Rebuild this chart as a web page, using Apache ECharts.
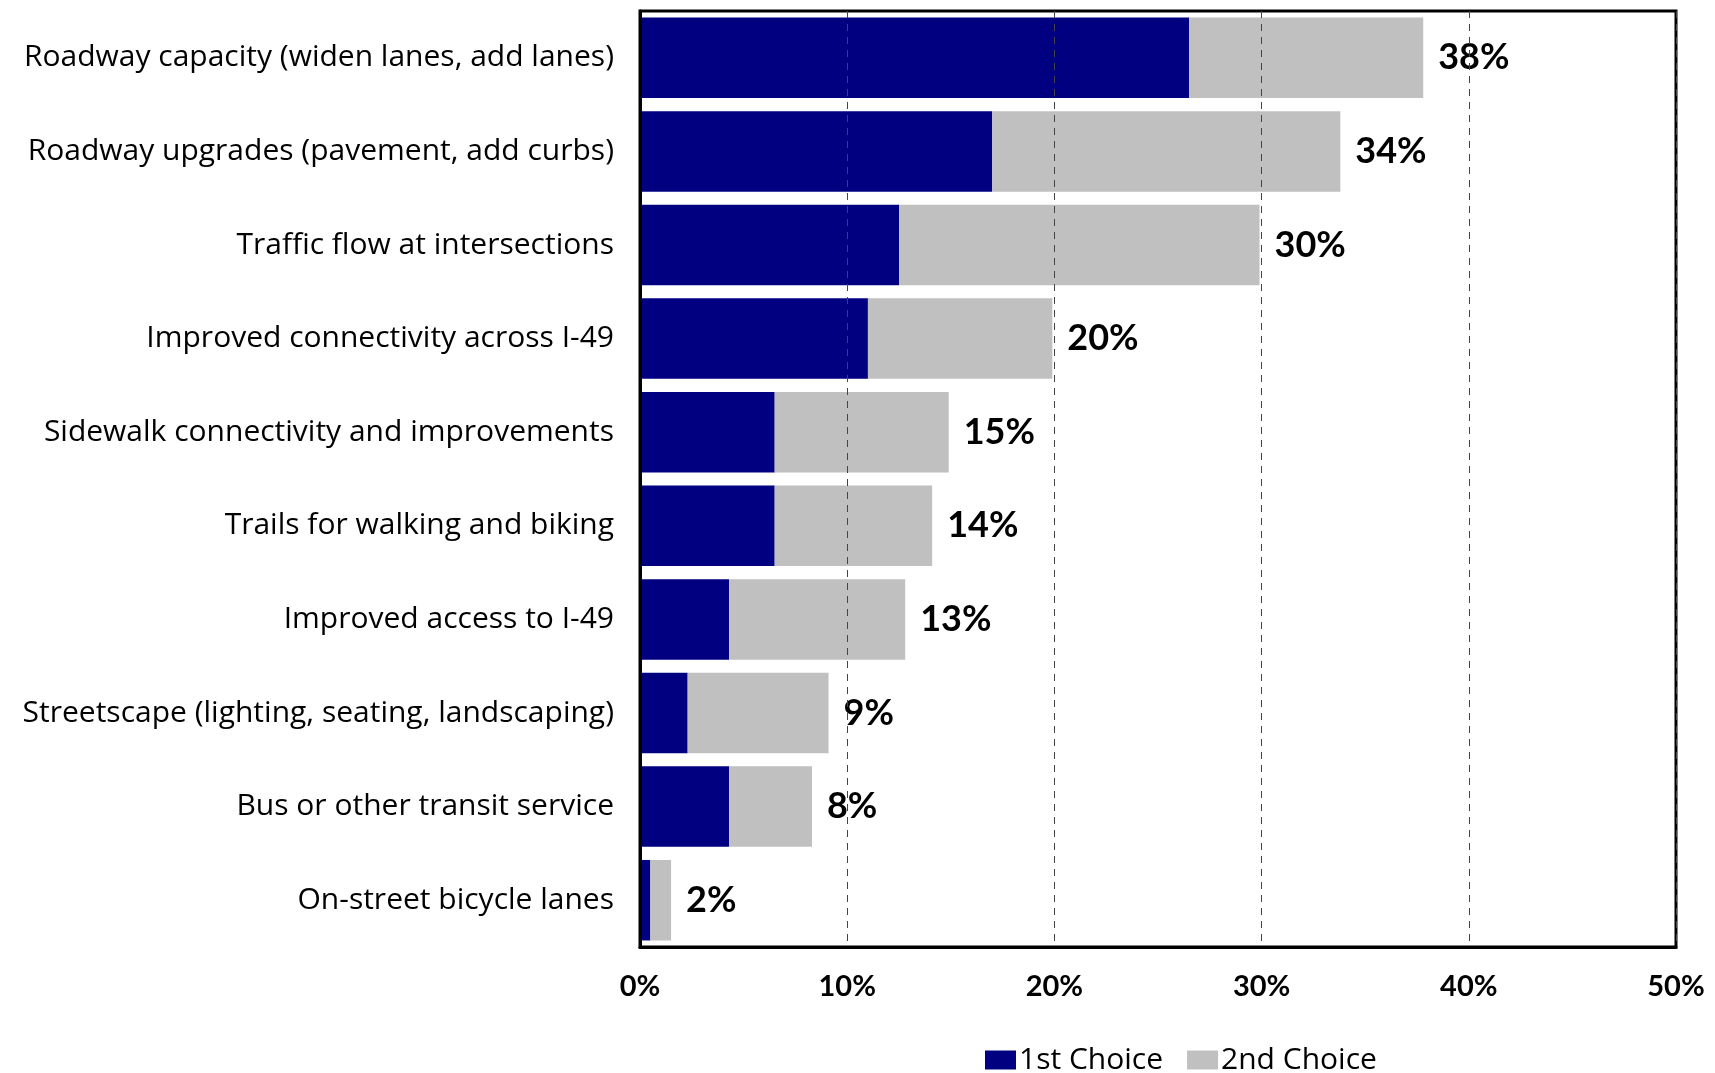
<!DOCTYPE html>
<html>
<head>
<meta charset="utf-8">
<script src="https://cdn.jsdelivr.net/npm/echarts@6/dist/echarts.min.js"></script>
<style>
html,body{margin:0;padding:0;background:#fff;}
#chart{width:1715px;height:1073px;}
</style>
</head>
<body>
<div id="chart"></div>
<script>
const categories = [
  "Roadway capacity (widen lanes, add lanes)",
  "Roadway upgrades (pavement, add curbs)",
  "Traffic flow at intersections",
  "Improved connectivity across I-49",
  "Sidewalk connectivity and improvements",
  "Trails for walking and biking",
  "Improved access to I-49",
  "Streetscape (lighting, seating, landscaping)",
  "Bus or other transit service",
  "On-street bicycle lanes"
];
const firstChoice  = [26.5, 17.0, 12.5, 11.0, 6.5, 6.5, 4.3, 2.3, 4.3, 0.5];
const secondChoice = [11.3, 16.8, 17.4, 8.9, 8.4, 7.6, 8.5, 6.8, 4.0, 1.0];
const totalLabels  = ["38%", "34%", "30%", "20%", "15%", "14%", "13%", "9%", "8%", "2%"];
const xTicks = [0, 10, 20, 30, 40, 50];

const FONT = "Open Sans";
const BFONT = "Lato";
const chart = echarts.init(document.getElementById('chart'), null, {renderer: 'canvas'});
chart.setOption({
  animation: false,
  backgroundColor: '#fff',
  textStyle: {fontFamily: FONT},
  grid: {
    left: 640, right: 39, top: 11, bottom: 126,
    show: true, borderColor: '#000', borderWidth: 3, backgroundColor: 'transparent',
    containLabel: false
  },
  legend: {
    top: 1040, left: 980,
    itemWidth: 31, itemHeight: 19, itemGap: 24,
    icon: 'rect',
    textStyle: {fontFamily: FONT, fontSize: 30, color: '#000', padding: [0,0,0,-2]},
    data: ['1st Choice', '2nd Choice']
  },
  xAxis: {
    type: 'value', min: 0, max: 50, interval: 10,
    axisLine: {show: true, lineStyle: {color: '#000', width: 3}},
    axisTick: {show: false},
    splitLine: {show: true, lineStyle: {color: '#444', type: [7, 6], width: 1}},
    axisLabel: {
      formatter: v => xTicks.includes(v) ? v + '%' : '',
      fontFamily: BFONT, fontWeight: 'bold', fontSize: 29, color: '#000', margin: 25
    },
    z: 5
  },
  yAxis: {
    type: 'category', data: categories, inverse: true,
    axisLine: {show: true, lineStyle: {color: '#000', width: 3}},
    axisTick: {show: false},
    axisLabel: {fontFamily: FONT, fontSize: 30, color: '#000', margin: 26},
    z: 5
  },
  series: [
    {
      name: '1st Choice', type: 'bar', stack: 'total',
      data: firstChoice, barCategoryGap: '14%',
      itemStyle: {color: '#000080'}
    },
    {
      name: '2nd Choice', type: 'bar', stack: 'total',
      data: secondChoice, barCategoryGap: '14%',
      itemStyle: {color: '#C0C0C0'},
      label: {
        show: true, position: 'right', distance: 15,
        formatter: p => totalLabels[p.dataIndex],
        fontFamily: BFONT, fontWeight: 'bold', fontSize: 36, color: '#000',
        padding: [5, 0, 0, 0]
      }
    }
  ]
});
</script>
</body>
</html>
